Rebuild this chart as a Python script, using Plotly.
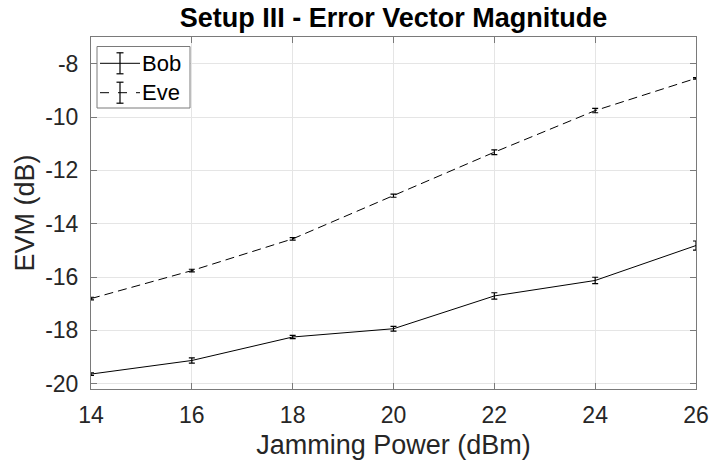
import plotly.graph_objects as go

jamming_power = [14, 16, 18, 20, 22, 24, 26]
bob_evm = [-19.64, -19.13, -18.25, -17.94, -16.71, -16.13, -14.82]
bob_err = [0.05, 0.10, 0.06, 0.09, 0.12, 0.12, 0.17]
eve_evm = [-16.81, -15.76, -14.57, -12.95, -11.32, -9.76, -8.55]
eve_err = [0.05, 0.05, 0.05, 0.06, 0.09, 0.08, 0.03]

series_names = ["Bob", "Eve"]
series_dash = ["solid", "9px,5px"]

x_ticks = [14, 16, 18, 20, 22, 24, 26]
x_tick_text = ["14", "16", "18", "20", "22", "24", "26"]
y_ticks = [-20, -18, -16, -14, -12, -10, -8]
y_tick_text = ["-20", "-18", "-16", "-14", "-12", "-10", "-8"]

font = "Liberation Sans, Arial, sans-serif"
axis_col = "#7a7a7a"
text_col = "#262626"

W, H = 709, 465
ML, MR, MT, MB = 91, 13, 37, 76
PW, PH = W - ML - MR, H - MT - MB


def px_x(px):
    return (px - ML) / PW


def px_y(py):
    return (H - MB - py) / PH


fig = go.Figure()
for name, ys, errs, dash in zip(series_names, [bob_evm, eve_evm], [bob_err, eve_err], series_dash):
    fig.add_trace(go.Scatter(
        x=jamming_power, y=ys, name=name, mode="lines",
        line=dict(color="black", width=1, dash=dash),
        error_y=dict(type="data", array=errs, color="black", thickness=1.2, width=3),
        showlegend=False,
    ))

# Legend drawn MATLAB-style (line sample with error-bar glyph)
shapes = [dict(type="rect", xref="paper", yref="paper",
               x0=px_x(97), x1=px_x(190), y0=px_y(108), y1=px_y(46.5),
               line=dict(color=axis_col, width=1), fillcolor="white", layer="above")]
annotations = []
for i, (name, dash) in enumerate(zip(series_names, series_dash)):
    yc = 63.3 + i * 29.4
    shapes.append(dict(type="line", xref="paper", yref="paper",
                       x0=px_x(100), x1=px_x(140), y0=px_y(yc), y1=px_y(yc),
                       line=dict(color="black", width=1, dash="dash" if dash != "solid" else "solid"),
                       layer="above"))
    shapes.append(dict(type="line", xref="paper", yref="paper",
                       x0=px_x(120), x1=px_x(120), y0=px_y(yc - 10.5), y1=px_y(yc + 10.5),
                       line=dict(color="black", width=1.2), layer="above"))
    for dy in (-10.5, 10.5):
        shapes.append(dict(type="line", xref="paper", yref="paper",
                           x0=px_x(116.5), x1=px_x(123.5), y0=px_y(yc + dy), y1=px_y(yc + dy),
                           line=dict(color="black", width=1.2), layer="above"))
    annotations.append(dict(text=name, xref="paper", yref="paper", x=px_x(140), y=px_y(yc),
                            xanchor="left", yanchor="middle", showarrow=False,
                            font=dict(family=font, size=22, color="black")))

axis_common = dict(
    showline=True, linecolor=axis_col, linewidth=1, mirror="allticks",
    ticks="inside", ticklen=6, tickcolor=axis_col,
    showgrid=True, gridcolor="#e5e5e5", gridwidth=1, zeroline=False,
    tickfont=dict(family=font, size=23, color=text_col),
    automargin=False,
)

fig.update_layout(
    width=W, height=H,
    margin=dict(l=ML, r=MR, t=MT, b=MB),
    paper_bgcolor="white", plot_bgcolor="white",
    title=dict(text="<b>Setup III - Error Vector Magnitude</b>", x=(ML + W - MR) / 2 / W,
               xanchor="center", xref="container", yref="container",
               y=1 - 18 / H, yanchor="middle",
               font=dict(family=font, size=27, color="black")),
    xaxis=dict(range=[14, 26], tickvals=x_ticks, ticktext=x_tick_text, ticklabelstandoff=5,
               title=dict(text="Jamming Power (dBm)", font=dict(family=font, size=27, color=text_col), standoff=8),
               **axis_common),
    yaxis=dict(range=[-20.2, -7], tickvals=y_ticks, ticktext=y_tick_text, ticklabelstandoff=7,
               title=dict(text="EVM (dB)", font=dict(family=font, size=27, color=text_col), standoff=2),
               **axis_common),
    shapes=shapes,
    annotations=annotations,
    showlegend=False,
)

fig.write_html("out.html", config={"displayModeBar": False},
               post_script="document.body.style.margin='0';document.body.style.padding='0';")
